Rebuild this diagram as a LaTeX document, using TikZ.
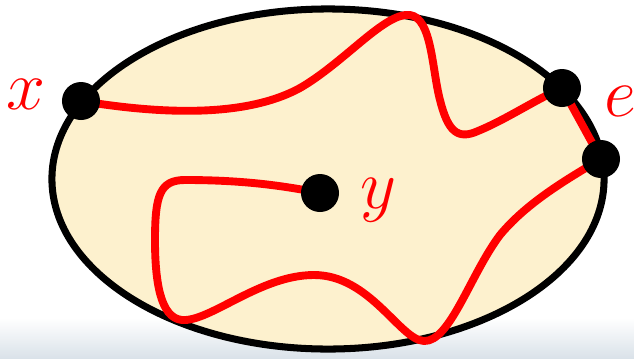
\documentclass[tikz,border=0pt]{standalone}
\usepackage{graphicx}
\usepackage{tikz}
\usetikzlibrary{calc}
\definecolor{regionfill}{RGB}{253,241,206}
\definecolor{stripcol}{RGB}{218,226,233}
\newcommand{\biglbl}[1]{\scalebox{2}{\Huge$#1$}}

\begin{document}
\begin{tikzpicture}[
    x=0.025cm, y=-0.025cm,
    region/.style={draw=black, fill=regionfill, line width=5pt},
    route/.style={draw=red, line width=5.6pt, line cap=round, line join=round},
    vertex/.style={circle, fill=black, inner sep=0pt, minimum size=0.95cm},
    lbl/.style={text=red, inner sep=0pt}
]
\useasboundingbox (0,0) rectangle (634,358);
\shade[top color=white, bottom color=stripcol] (0,318) rectangle (634,358);

\draw[region] (328,179) ellipse [x radius=6.9cm, y radius=4.25cm];

\coordinate (px) at (81,101);
\coordinate (pe1) at (562,88);
\coordinate (pe2) at (601,159);
\coordinate (py) at (320,193);

% path from x to the edge e
\draw[route] (px) .. controls (160,114) and (245,118) .. (300,88)
    .. controls (345,62) and (385,12) .. (410,15)
    .. controls (432,18) and (432,70) .. (440,100)
    .. controls (448,132) and (458,140) .. (478,131)
    .. controls (505,120) and (535,100) .. (pe1);
\draw[route] (pe1) -- (pe2);
% path from e back to y
\draw[route] (pe2) .. controls (560,183) and (525,205) .. (500,235)
    .. controls (470,275) and (450,342) .. (424,341)
    .. controls (400,340) and (370,275) .. (314,275)
    .. controls (260,275) and (210,322) .. (182,320)
    .. controls (160,318) and (155,280) .. (155,240)
    .. controls (155,195) and (160,180) .. (185,180)
    .. controls (240,180) and (280,185) .. (py);

\node[vertex] (x) at (px) {};
\node[vertex] (e1) at (pe1) {};
\node[vertex] (e2) at (pe2) {};
\node[vertex] (y) at (py) {};

\node[lbl] (xlabel) at (26,94) {\biglbl{x}};
\node[lbl] (elabel) at (620,101) {\biglbl{e}};
\node[lbl] (ylabel) at (378,200) {\biglbl{y}};
\end{tikzpicture}
\end{document}
